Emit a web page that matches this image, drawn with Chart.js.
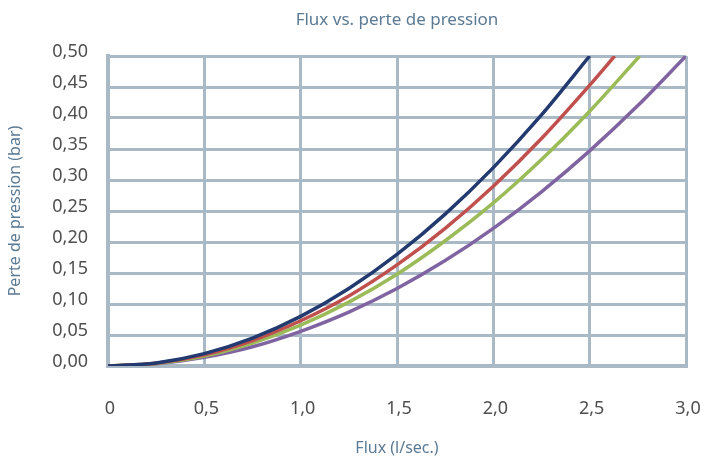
<!DOCTYPE html>
<html>
<head>
<meta charset="utf-8">
<script src="https://cdn.jsdelivr.net/npm/chart.js@4/dist/chart.umd.min.js"></script>
<style>
  html, body { margin: 0; padding: 0; background: #fff; }
  #wrap { width: 703px; height: 464px; }
</style>
</head>
<body>
<div id="wrap"><canvas id="chart"></canvas></div>
<script>
// --- data ---
const navyX = [0, 0.25, 0.5, 0.75, 1.0, 1.25, 1.5, 1.75, 2.0, 2.25, 2.5];
const navyY = [0, 0.005, 0.020, 0.045, 0.080, 0.125, 0.180, 0.245, 0.320, 0.405, 0.500];

const redX = [0, 0.25, 0.5, 0.75, 1.0, 1.25, 1.5, 1.75, 2.0, 2.25, 2.5, 2.63];
const redY = [0, 0.0045, 0.018, 0.041, 0.073, 0.113, 0.163, 0.222, 0.290, 0.367, 0.453, 0.500];

const greenX = [0, 0.25, 0.5, 0.75, 1.0, 1.25, 1.5, 1.75, 2.0, 2.25, 2.5, 2.76];
const greenY = [0, 0.004, 0.016, 0.037, 0.066, 0.103, 0.148, 0.202, 0.263, 0.333, 0.411, 0.500];

const purpleX = [0, 0.25, 0.5, 0.75, 1.0, 1.25, 1.5, 1.75, 2.0, 2.25, 2.5, 2.75, 3.0];
const purpleY = [0, 0.0035, 0.014, 0.031, 0.056, 0.087, 0.125, 0.170, 0.222, 0.281, 0.347, 0.420, 0.500];

const xTicks = [0, 0.5, 1.0, 1.5, 2.0, 2.5, 3.0];
const yTicks = [0, 0.05, 0.10, 0.15, 0.20, 0.25, 0.30, 0.35, 0.40, 0.45, 0.50];

const chartTitle = 'Flux vs. perte de pression';
const xTitle = 'Flux (l/sec.)';
const yTitle = 'Perte de pression (bar)';

// pair up x / y arrays into points
function toPoints(xs, ys) {
    return xs.map((x, i) => ({ x: x, y: ys[i] }));
}

function makeSeries(xs, ys, color) {
    return {
        data: toPoints(xs, ys),
        borderColor: color,
        borderWidth: 3.5,
        pointRadius: 0,
        fill: false,
        cubicInterpolationMode: 'monotone'
    };
}

const titleColor = '#5b7a94';
const tickColor = '#4f4f4f';
const gridColor = '#aab9c6';
const fontFamily = '"Noto Sans", sans-serif';

const commaFmt = (v, digits) => v.toFixed(digits).replace('.', ',');

new Chart(document.getElementById('chart'), {
    type: 'line',
    data: {
        datasets: [
            makeSeries(navyX, navyY, '#223a70'),
            makeSeries(redX, redY, '#c0504d'),
            makeSeries(greenX, greenY, '#9bbb59'),
            makeSeries(purpleX, purpleY, '#8064a2')
        ]
    },
    options: {
        responsive: true,
        maintainAspectRatio: false,
        animation: false,
        layout: { padding: { left: 0, right: 17, top: 0, bottom: 0 } },
        plugins: {
            legend: { display: false },
            tooltip: { enabled: false },
            title: {
                display: true,
                text: chartTitle,
                fullSize: false,
                color: titleColor,
                font: { family: fontFamily, size: 17, weight: 'normal' },
                padding: { top: 10, bottom: 25.6 }
            }
        },
        scales: {
            x: {
                type: 'linear',
                min: 0,
                max: 3,
                afterBuildTicks: (scale) => { scale.ticks = xTicks.map(v => ({ value: v })); },
                afterFit: (scale) => {
                    scale.height = 98;
                    // no extra room for the end labels, the layout padding handles it
                    scale.paddingLeft = 0;
                    scale.paddingRight = 0;
                },
                grid: { color: gridColor, lineWidth: 3, drawTicks: false },
                border: { display: true, color: gridColor, width: 4 },
                ticks: {
                    padding: 32,
                    labelOffset: 2,
                    color: tickColor,
                    font: { family: fontFamily, size: 18 },
                    callback: (v) => v === 0 ? '0' : commaFmt(v, 1)
                },
                title: {
                    display: true,
                    text: xTitle,
                    color: titleColor,
                    font: { family: fontFamily, size: 16 },
                    padding: { top: 0, bottom: 6 }
                }
            },
            y: {
                type: 'linear',
                min: 0,
                max: 0.5,
                afterBuildTicks: (scale) => { scale.ticks = yTicks.map(v => ({ value: v })); },
                afterFit: (scale) => {
                    scale.width = 108;
                    scale.paddingTop = 0;
                    scale.paddingBottom = 0;
                },
                grid: { color: gridColor, lineWidth: 3, drawTicks: false },
                border: { display: true, color: gridColor, width: 4 },
                ticks: {
                    padding: 20,
                    labelOffset: -4,
                    color: tickColor,
                    font: { family: fontFamily, size: 18 },
                    callback: (v) => commaFmt(v, 2)
                },
                title: {
                    display: true,
                    text: yTitle,
                    color: titleColor,
                    font: { family: fontFamily, size: 16 },
                    padding: { top: 6, bottom: 0 }
                }
            }
        }
    }
});
</script>
</body>
</html>
